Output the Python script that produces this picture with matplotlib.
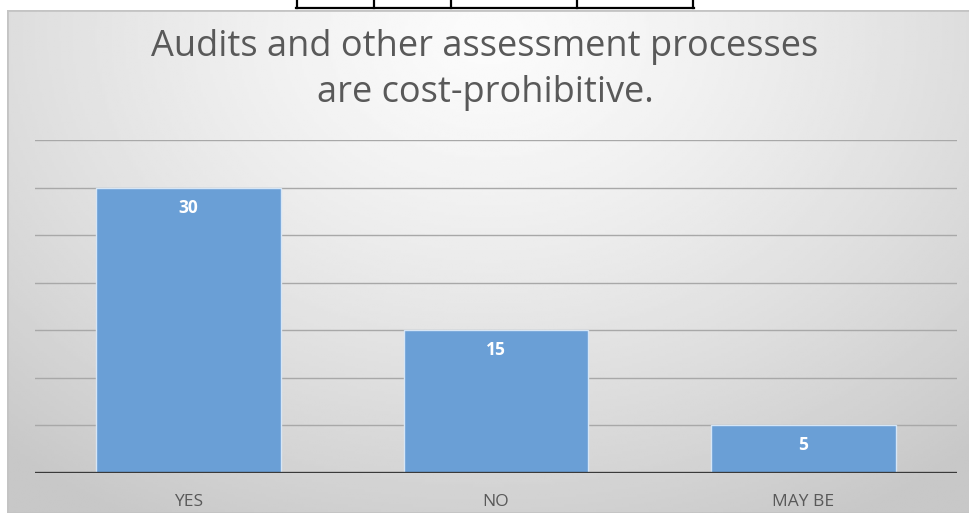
import numpy as np
import matplotlib
matplotlib.use('Agg')
import matplotlib.pyplot as plt
from matplotlib.patches import Rectangle

categories = ['YES', 'NO', 'MAY BE']
counts = [30, 15, 5]
title = 'Audits and other assessment processes\nare cost-prohibitive.'
gridlines = [5, 10, 15, 20, 25, 30, 35]

plt.rcParams['font.family'] = ['Open Sans', 'DejaVu Sans']

W, H = 970, 515
fig = plt.figure(figsize=(W / 100, H / 100), dpi=100)
fig.patch.set_facecolor('white')

# gray gradient panel behind the chart
bg = fig.add_axes([7 / W, 2 / H, 1 - 7 / W, (H - 12) / H])
bg.set_axis_off()
yy, xx = np.mgrid[0:1:200j, 0:1:400j]
r = np.sqrt(((xx - 0.5) / 0.75) ** 2 + ((yy - 0.05) / 1.1) ** 2)
shade = 0.985 - 0.2 * np.clip(r, 0, 1) ** 1.3
bg.imshow(shade, cmap='gray', vmin=0, vmax=1, aspect='auto', extent=[0, 1, 1, 0])
bg.set_xlim(0, 1)
bg.set_ylim(1, 0)
bg.add_patch(Rectangle((0, 0), 1, 1, transform=bg.transAxes, fill=False,
                       edgecolor='#c4c4c4', linewidth=2))

# bits of the table above the chart
tab = fig.add_axes([0, 0, 1, 1], facecolor='none')
tab.set_axis_off()
tab.set_xlim(0, W)
tab.set_ylim(H, 0)
for xv in [297, 374, 451, 577, 693]:
    tab.plot([xv, xv], [0, 8], color='black', linewidth=1.6)
tab.plot([296, 694], [8, 8], color='black', linewidth=1.6)

ax = fig.add_axes([35 / W, (H - 473) / H, (957 - 35) / W, (473 - 140) / H])
ax.patch.set_alpha(0)
x = np.arange(len(categories))
bars = ax.bar(x, counts, width=0.6, color='#6A9FD6', edgecolor='#d6e6f6',
              linewidth=1, zorder=3)
for b, v in zip(bars, counts):
    ax.text(b.get_x() + b.get_width() / 2, v - 2.1, str(v), ha='center',
            va='center', color='white', fontsize=12.5, fontweight='bold', zorder=4)
for g in gridlines:
    ax.axhline(g, color='#a8a8a8', linewidth=1, zorder=1)
ax.axhline(0, color='#3a3a3a', linewidth=2.4, zorder=5)
ax.set_xlim(-0.5, 2.5)
ax.set_ylim(0, 35)
ax.set_yticks([])
ax.set_xticks(x)
ax.set_xticklabels(categories, color='#595959', fontsize=12.5)
ax.tick_params(axis='x', length=0, pad=15)
for s in ax.spines.values():
    s.set_visible(False)

fig.text(485 / W, 1 - 70 / H, title, ha='center', va='center', fontsize=26,
         color='#595959', linespacing=1.4)

fig.savefig('out.png', dpi=100)
